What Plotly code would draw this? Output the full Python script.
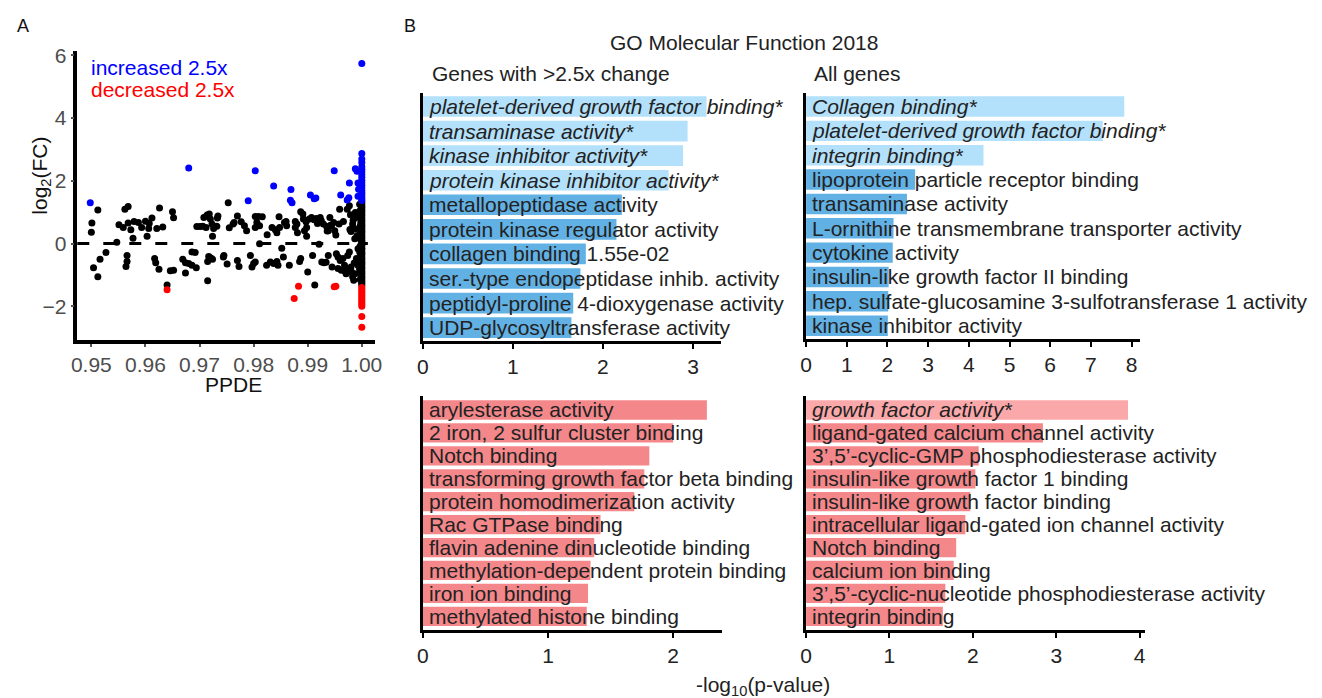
import plotly.graph_objects as go

W, H = 1322, 698
FONT = "Liberation Sans, Arial, sans-serif"

# ---------------- Panel A data (PPDE vs log2 FC) ----------------
ppde_black = [
    0.9501, 0.9500, 0.9504, 0.9512, 0.9512, 0.9516, 0.9527, 0.9547, 0.9551, 0.9559,
    0.9562, 0.9568, 0.9566, 0.9566, 0.9564, 0.9568, 0.9573, 0.9577, 0.9579, 0.9587,
    0.9593, 0.9600, 0.9603, 0.9606, 0.9607, 0.9612, 0.9617, 0.9619, 0.9625, 0.9621,
    0.9632, 0.9626, 0.9640, 0.9646, 0.9652, 0.9650, 0.9652, 0.9669, 0.9674, 0.9674,
    0.9680, 0.9686, 0.9694, 0.9686, 0.9692, 0.9695, 0.9701, 0.9706, 0.9712, 0.9708,
    0.9714, 0.9718, 0.9720, 0.9723, 0.9726, 0.9732, 0.9733, 0.9734, 0.9724, 0.9715,
    0.9717, 0.9721, 0.9724, 0.9715, 0.9744, 0.9753, 0.9755, 0.9751, 0.9762, 0.9770,
    0.9764, 0.9777, 0.9783, 0.9787, 0.9745, 0.9770, 0.9773, 0.9794, 0.9800, 0.9803,
    0.9797, 0.9803, 0.9809, 0.9816, 0.9806, 0.9803, 0.9811, 0.9811, 0.9825, 0.9824,
    0.9831, 0.9837, 0.9843, 0.9845, 0.9834, 0.9840, 0.9843, 0.9847, 0.9848, 0.9852,
    0.9855, 0.9857, 0.9861, 0.9860, 0.9866, 0.9877, 0.9877, 0.9880, 0.9881, 0.9885,
    0.9887, 0.9887, 0.9891, 0.9892, 0.9894, 0.9898, 0.9900, 0.9897, 0.9898, 0.9909,
    0.9913, 0.9903, 0.9907, 0.9912, 0.9916, 0.9923, 0.9925, 0.9929, 0.9926, 0.9930,
    0.9935, 0.9938, 0.9938, 0.9941, 0.9944, 0.9948, 0.9950, 0.9952, 0.9953, 0.9956,
    0.9956, 0.9959, 0.9962, 0.9960, 0.9965, 0.9968, 0.9971, 0.9974, 0.9977, 0.9980,
    0.9983, 0.9985, 0.9987, 0.9977, 0.9973, 0.9983, 0.9980, 0.9988, 0.9990, 0.9991,
    0.9993, 0.9990, 0.9993, 0.9987, 0.9988, 0.9918, 0.9921, 0.9934, 0.9936, 0.9942,
    0.9945, 0.9958, 0.9966, 0.9979, 0.9984, 0.9969, 0.9975, 0.9981, 0.9986, 0.9978,
    0.9996, 0.9997, 0.9996, 0.9998, 0.9997, 0.9996, 0.9998, 0.9997, 0.9996, 0.9998,
    0.9997, 0.9996, 0.9998, 0.9997, 0.9996, 0.9998, 0.9997, 0.9996,
    1.0, 1.0, 1.0, 1.0, 1.0, 1.0, 1.0, 1.0, 1.0, 1.0,
    1.0, 1.0, 1.0, 1.0, 1.0, 1.0, 1.0, 1.0, 1.0, 1.0,
    1.0, 1.0, 1.0, 1.0, 1.0, 1.0, 1.0, 1.0, 1.0, 1.0,
    1.0, 1.0, 1.0, 1.0, 1.0, 1.0, 1.0, 1.0, 1.0, 1.0,
    1.0, 1.0, 1.0, 1.0, 1.0,
]
lfc_black = [
    0.65, 0.36, -0.77, 1.07, -1.06, -0.50, -0.29, 0.04, 0.60, 0.51,
    1.09, 1.18, -0.38, -0.57, -0.73, 0.65, 0.44, 0.17, 0.70, 0.67,
    0.51, 0.71, 0.23, 0.48, 0.64, 0.81, -0.48, -0.61, -0.82, 0.48,
    0.53, 1.13, -1.32, -0.87, -0.85, 1.01, 0.82, -0.50, -0.61, -0.94,
    -0.64, -0.69, -0.77, -0.27, -0.29, 0.54, 0.54, 0.55, 0.51, 0.83,
    0.91, 0.94, 0.78, 0.62, 0.48, 0.55, 0.81, 0.88, 0.23, -1.19,
    -0.41, -0.46, -0.50, -0.57, -0.43, 1.30, 0.50, -0.65, 0.62, 0.88,
    0.67, 0.69, 0.57, 0.41, -0.38, -0.54, -0.73, -0.38, -0.64, -0.59,
    -0.75, 0.86, 0.86, 0.85, 0.67, 0.51, 0.57, -0.01, 0.28, -0.69,
    -0.59, -0.64, -0.57, -0.69, 0.51, 0.44, 0.34, 0.85, 0.51, -0.15,
    -0.43, 0.67, 0.57, 0.70, -0.69, 0.70, 0.51, 0.62, 0.34, -0.57,
    -0.48, 1.01, 0.94, 0.78, 0.41, 0.23, -0.91, 0.69, 0.51, -0.38,
    -1.32, 0.78, 0.83, 0.76, 0.80, 0.83, 0.73, 0.62, -0.59, -0.61,
    0.54, 0.41, -0.38, 0.83, 0.57, 0.67, 0.41, 0.27, -0.33, -0.43,
    -0.80, 1.09, -0.85, -0.54, -0.48, -0.69, -0.96, -0.38, -0.27, -0.75,
    -1.06, -1.17, -0.96, 1.20, 1.09, 0.62, 0.38, 0.99, 0.83, 0.25,
    -0.17, -0.48, -0.69, 0.15, 0.46, 0.64, -0.02, -0.60, 0.40, 0.58,
    -0.75, 0.62, 0.70, 0.92, 0.74, -0.88, -0.82, -0.91, -0.62, 0.45,
    1.25, 1.05, 0.85, 0.66, 0.47, 0.28, 0.12, -0.08, -0.27, -0.45,
    -0.63, -0.82, -1.0, -1.15, 0.95, -0.35, 0.55, -0.72,
    1.32, 1.26, 1.19, 1.13, 1.07, 1.01, 0.95, 0.89, 0.82, 0.76,
    0.71, 0.64, 0.58, 0.53, 0.46, 0.40, 0.35, 0.28, 0.22, 0.17,
    0.10, 0.05, -0.03, -0.08, -0.15, -0.20, -0.27, -0.32, -0.38, -0.45,
    -0.50, -0.57, -0.62, -0.68, -0.75, -0.80, -0.87, -0.92, -0.98, -1.05,
    -1.10, -1.16, -1.22, -1.27, -1.33,
]
ppde_up = [
    0.9498, 0.9680, 0.9803, 0.9790, 0.9837, 0.9869, 0.9868, 0.9871, 0.9905, 0.9912,
    0.9915, 0.9949, 0.9961, 0.9973, 0.9976, 0.9977, 0.9988, 0.9991, 0.9993, 0.9994,
    0.9993, 1.0, 1.0, 1.0, 1.0, 1.0, 1.0, 1.0, 1.0, 1.0,
    1.0, 1.0, 1.0, 1.0, 1.0, 1.0, 1.0, 1.0, 1.0, 1.0,
]
lfc_up = [
    1.30, 2.41, 2.32, 1.36, 1.83, 1.72, 1.38, 1.30, 1.55, 1.43,
    1.45, 2.32, 1.55, 1.39, 1.46, 1.93, 2.38, 2.30, 1.93, 1.73,
    1.51, 5.74, 2.87, 2.69, 2.58, 2.45, 2.37, 2.29, 2.20, 2.11,
    2.02, 1.94, 1.86, 1.78, 1.70, 1.63, 1.56, 1.49, 1.43, 1.37,
]
ppde_down = [
    0.9640, 0.9883, 0.9875, 0.9949, 0.9952, 1.0, 1.0, 1.0, 1.0, 1.0,
    1.0, 1.0, 1.0, 1.0, 1.0, 1.0, 1.0, 1.0,
]
lfc_down = [
    -1.47, -1.36, -1.75, -1.38, -1.36, -1.40, -1.46, -1.52, -1.58, -1.64,
    -1.70, -1.76, -1.82, -1.88, -1.94, -2.00, -2.33, -2.67,
]

# ---------------- Panel B data (GO Molecular Function 2018) ----------------
up_terms = [
    "platelet-derived growth factor binding*", "transaminase activity*",
    "kinase inhibitor activity*", "protein kinase inhibitor activity*",
    "metallopeptidase activity", "protein kinase regulator activity",
    "collagen binding 1.55e-02", "ser.-type endopeptidase inhib. activity",
    "peptidyl-proline 4-dioxygenase activity", "UDP-glycosyltransferase activity",
]
up_vals = [3.15, 2.94, 2.89, 2.73, 2.21, 2.15, 1.81, 1.75, 1.67, 1.65]
up_sig = [True, True, True, True, False, False, False, False, False, False]

all_up_terms = [
    "Collagen binding*", "platelet-derived growth factor binding*", "integrin binding*",
    "lipoprotein particle receptor binding", "transaminase activity",
    "L-ornithine transmembrane transporter activity", "cytokine activity",
    "insulin-like growth factor II binding",
    "hep. sulfate-glucosamine 3-sulfotransferase 1 activity", "kinase inhibitor activity",
]
all_up_vals = [7.82, 7.29, 4.36, 2.68, 2.48, 2.15, 2.13, 2.03, 2.02, 2.01]
all_up_sig = [True, True, True, False, False, False, False, False, False, False]

down_terms = [
    "arylesterase activity", "2 iron, 2 sulfur cluster binding", "Notch binding",
    "transforming growth factor beta binding", "protein homodimerization activity",
    "Rac GTPase binding", "flavin adenine dinucleotide binding",
    "methylation-dependent protein binding", "iron ion binding", "methylated histone binding",
]
down_vals = [2.27, 2.00, 1.81, 1.77, 1.69, 1.42, 1.37, 1.34, 1.32, 1.31]
down_sig = [False] * 10

all_down_terms = [
    "growth factor activity*", "ligand-gated calcium channel activity",
    "3\u2019,5\u2019-cyclic-GMP phosphodiesterase activity",
    "insulin-like growth factor 1 binding", "insulin-like growth factor binding",
    "intracellular ligand-gated ion channel activity", "Notch binding",
    "calcium ion binding", "3\u2019,5\u2019-cyclic-nucleotide phosphodiesterase activity",
    "integrin binding",
]
all_down_vals = [3.86, 2.84, 2.07, 2.03, 1.97, 1.91, 1.80, 1.77, 1.67, 1.64]
all_down_sig = [True] + [False] * 9

scatter_xticks = [0.95, 0.96, 0.97, 0.98, 0.99, 1.00]
scatter_yticks = [-2, 0, 2, 4, 6]

BLUE_SIG, BLUE = "#b3e0fa", "#62b1e4"
RED_SIG, RED = "#fba8aa", "#f4878a"


def px_x(p):
    return p / W


def px_y(p):
    return 1 - p / H


fig = go.Figure()

# Panel A scatter
for xs, ys, col in [(ppde_black, lfc_black, "black"), (ppde_up, lfc_up, "#0000ff"),
                    (ppde_down, lfc_down, "#ff0000")]:
    fig.add_trace(go.Scatter(x=xs, y=ys, mode="markers", xaxis="x", yaxis="y",
                             marker=dict(color=col, size=7, line=dict(width=0)),
                             showlegend=False, hoverinfo="skip"))

panels = [
    (up_terms, up_vals, up_sig, BLUE_SIG, BLUE, "2"),
    (all_up_terms, all_up_vals, all_up_sig, BLUE_SIG, BLUE, "3"),
    (down_terms, down_vals, down_sig, RED_SIG, RED, "4"),
    (all_down_terms, all_down_vals, all_down_sig, RED_SIG, RED, "5"),
]
annotations = []
for terms, vals, sig, c_sig, c_norm, k in panels:
    fig.add_trace(go.Bar(x=vals, y=terms, orientation="h", xaxis="x" + k, yaxis="y" + k,
                         marker=dict(color=[c_sig if s else c_norm for s in sig], line=dict(width=0)),
                         showlegend=False, hoverinfo="skip", width=0.84))
    for t, s in zip(terms, sig):
        annotations.append(dict(x=0, y=t, xref="x" + k, yref="y" + k, xanchor="left",
                                yanchor="middle", xshift=4, showarrow=False,
                                text=("<i>%s</i>" % t) if s else t,
                                font=dict(family=FONT, size=21, color="#222222")))

# text annotations
def txt(text, x, y, size=21, color="#111111", xanchor="left", angle=0):
    annotations.append(dict(text=text, x=px_x(x), y=px_y(y), xref="paper", yref="paper",
                            xanchor=xanchor, yanchor="middle", showarrow=False, textangle=angle,
                            font=dict(family=FONT, size=size, color=color)))

txt("A", 9, 18, size=18, color="#111111")
txt("B", 400, 18, size=18, color="#111111")
txt("increased 2.5x", 84, 60, color="#0000ff")
txt("decreased 2.5x", 84, 82, color="#ff0000")
txt("log<sub>2</sub>(FC)", 35, 170, xanchor="center", angle=-90)
txt("PPDE", 230, 381, xanchor="center")
txt("GO Molecular Function 2018", 745, 35, xanchor="center", color="#222222")
txt("Genes with >2.5x change", 428, 66, color="#222222")
txt("All genes", 814, 66, color="#222222")
txt("-log<sub>10</sub>(p-value)", 765, 686, xanchor="center", color="#222222")

axis_common = dict(showgrid=False, zeroline=False, showline=True, linecolor="black")

layout = dict(
    width=W, height=H, margin=dict(l=0, r=0, t=0, b=0), autosize=False,
    paper_bgcolor="white", plot_bgcolor="white", showlegend=False,
    font=dict(family=FONT, size=21, color="#222222"),
    bargap=0.16,
    xaxis=dict(**axis_common, linewidth=3.5, domain=[px_x(72), px_x(373)],
               range=[0.9474, 1.0025], tickvals=scatter_xticks, tickformat=".2f",
               ticks="outside", ticklen=3, tickwidth=1.5, tickcolor="#555555",
               tickfont=dict(family=FONT, size=21, color="#4d4d4d"), anchor="y"),
    yaxis=dict(**axis_common, linewidth=3.5, domain=[px_y(336), px_y(44)],
               range=[-3.08, 6.12], tickvals=scatter_yticks,
               ticks="outside", ticklen=3, tickwidth=1.5, tickcolor="#555555",
               tickfont=dict(family=FONT, size=21, color="#4d4d4d"), anchor="x"),
    annotations=annotations,
    shapes=[dict(type="line", xref="x domain", yref="y", x0=0.0, x1=0.975, y0=0, y1=0,
                 line=dict(color="black", width=3, dash="12px,14px"), layer="below")],
)

bar_geo = {
    "2": ([421, 722], [337, 86], [0, 3.31]),
    "3": ([808, 1145], [335, 86], [0, 8.2]),
    "4": ([421, 723], [629, 393], [0, 2.39]),
    "5": ([808, 1150], [629, 393], [0, 4.06]),
}
for k, (xd, yd, xr) in bar_geo.items():
    layout["xaxis" + k] = dict(**axis_common, linewidth=3, domain=[px_x(xd[0]), px_x(xd[1])],
                               range=xr, dtick=1, ticks="outside", ticklen=5, tickwidth=2,
                               tickcolor="black", anchor="y" + k,
                               tickfont=dict(family=FONT, size=21, color="#222222"))
    layout["yaxis" + k] = dict(**axis_common, linewidth=3, domain=[px_y(yd[0]), px_y(yd[1])],
                               type="category", autorange="reversed", showticklabels=False,
                               ticks="", anchor="x" + k)

fig.update_layout(**layout)
fig.write_html("out.html")
